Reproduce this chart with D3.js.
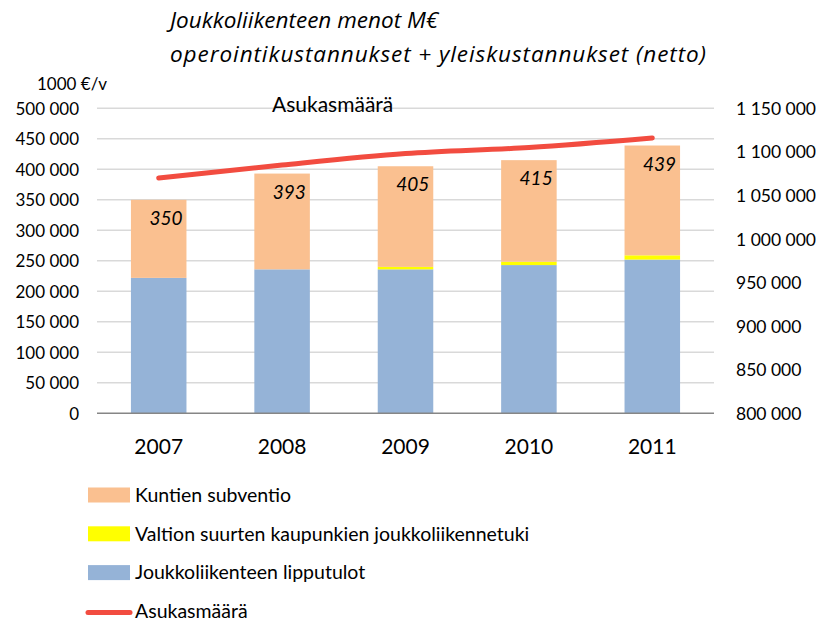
<!DOCTYPE html>
<html>
<head>
<meta charset="utf-8">
<title>Joukkoliikenteen menot</title>
<script src="https://cdn.jsdelivr.net/npm/d3@7"></script>
<style>
  body { margin: 0; background: #fff; }
  text { font-family: Lato, "Open Sans", sans-serif; fill: #000; }
</style>
</head>
<body>
<script>
// vuodet ja sarjat (1000 €/v)
var years = ["2007", "2008", "2009", "2010", "2011"];
var lipputulot = [222000, 236000, 236000, 243000, 252000];
var valtionTuki = [0, 0, 4000, 5500, 7000];
var kuntienSubventio = [128000, 157000, 165000, 166500, 180000];
var totals = [350, 393, 405, 415, 439];
var asukasmaara = [1070000, 1085000, 1098000, 1105000, 1116000];
var leftTicks = [0, 50000, 100000, 150000, 200000, 250000, 300000, 350000, 400000, 450000, 500000];
var rightTicks = [800000, 850000, 900000, 950000, 1000000, 1050000, 1100000, 1150000];

var seriesNames = ["Kuntien subventio", "Valtion suurten kaupunkien joukkoliikennetuki", "Joukkoliikenteen lipputulot", "Asukasmäärä"];
var colors = { lippu: "#95b3d7", valtio: "#ffff00", kunta: "#fac090", line: "#f24c40" };

var width = 819, height = 622;
var plotLeft = 97, plotRight = 714, plotTop = 108.3, plotBottom = 413.3;

var svg = d3.select("body").append("svg")
  .attr("width", width)
  .attr("height", height);

var x = d3.scaleBand().domain(years).range([plotLeft, plotRight]).paddingInner(0.55).paddingOuter(0.275);
var y = d3.scaleLinear().domain([0, 500000]).range([plotBottom, plotTop]);
var y2 = d3.scaleLinear().domain([800000, 1150000]).range([plotBottom, plotTop]);

var fmt = function(v) { return d3.format(",")(v).replace(/,/g, " "); };

// ruudukko
svg.append("g").selectAll("line").data(leftTicks.slice(1)).enter().append("line")
  .attr("x1", plotLeft).attr("x2", plotRight)
  .attr("y1", d => y(d)).attr("y2", d => y(d))
  .style("stroke", "#d9d9d9").style("stroke-width", 1.5);

// akselit
var yAxis = svg.append("g").attr("transform", "translate(" + (plotLeft - 18) + ",0)")
  .call(d3.axisLeft(y).tickValues(leftTicks).tickFormat(fmt).tickSize(0).tickPadding(0));
yAxis.select(".domain").remove();
yAxis.selectAll("text").style("font-size", "17px").style("font-family", "Lato, sans-serif").attr("dy", "0.35em");

var y2Axis = svg.append("g").attr("transform", "translate(" + (plotRight + 22) + ",0)")
  .call(d3.axisRight(y2).tickValues(rightTicks).tickFormat(fmt).tickSize(0).tickPadding(0));
y2Axis.select(".domain").remove();
y2Axis.selectAll("text").style("font-size", "17.5px").style("font-family", "Lato, sans-serif").attr("dy", "0.35em");

// pinotut pylväät
var stackData = years.map(function(yr, i) {
  return { year: yr, lippu: lipputulot[i], valtio: valtionTuki[i], kunta: kuntienSubventio[i] };
});
var stack = d3.stack().keys(["lippu", "valtio", "kunta"]);
var layers = stack(stackData);

svg.append("g").selectAll("g").data(layers).enter().append("g")
  .style("fill", d => colors[d.key])
  .selectAll("rect").data(d => d).enter().append("rect")
  .attr("x", d => x(d.data.year))
  .attr("width", x.bandwidth())
  .attr("y", d => y(d[1]))
  .attr("height", d => y(d[0]) - y(d[1]));

// x-akselin viiva
svg.append("line")
  .attr("x1", plotLeft).attr("x2", plotRight)
  .attr("y1", plotBottom).attr("y2", plotBottom)
  .style("stroke", "#868686").style("stroke-width", 1.5);

var xAxis = svg.append("g").attr("transform", "translate(0," + (plotBottom + 41) + ")")
  .call(d3.axisBottom(x).tickSize(0).tickPadding(0));
xAxis.select(".domain").remove();
xAxis.selectAll("text").style("font-size", "21px").style("font-family", "Lato, sans-serif").attr("dy", "0");

// arvot
svg.append("g").selectAll("text").data(years).enter().append("text")
  .attr("x", d => x(d) + x.bandwidth() - 4)
  .attr("y", (d, i) => y(lipputulot[i] + valtionTuki[i] + kuntienSubventio[i]) + 25)
  .attr("text-anchor", "end")
  .style("font-size", "19px").style("font-style", "italic")
  .text((d, i) => totals[i]);

// asukasmäärä
var line = d3.line()
  .x((d, i) => x(years[i]) + x.bandwidth() / 2)
  .y(d => y2(d))
  .curve(d3.curveMonotoneX);
svg.append("path").datum(asukasmaara)
  .attr("d", line)
  .style("fill", "none").style("stroke", colors.line)
  .style("stroke-width", 5).style("stroke-linecap", "round");

// otsikot
svg.append("text").attr("x", 170).attr("y", 28)
  .style("font-size", "22.5px").style("font-style", "italic")
  .style("font-family", "'Open Sans', sans-serif")
  .text("Joukkoliikenteen menot M€");
svg.append("text").attr("x", 170).attr("y", 62)
  .attr("textLength", 536).attr("lengthAdjust", "spacing")
  .style("font-size", "22.5px").style("font-style", "italic")
  .style("font-family", "'Open Sans', sans-serif")
  .text("operointikustannukset + yleiskustannukset (netto)");
svg.append("text").attr("x", 37).attr("y", 90)
  .style("font-size", "17px").text("1000 €/v");
svg.append("text").attr("x", 272).attr("y", 112)
  .style("font-size", "21px").text("Asukasmäärä");

// selite
var legend = svg.append("g");
var legendColors = [colors.kunta, colors.valtio, colors.lippu];
seriesNames.forEach(function(name, i) {
  var ly = 495 + i * 38.8;
  if (i < 3) {
    legend.append("rect").attr("x", 88).attr("y", ly - 7.5).attr("width", 42).attr("height", 15)
      .style("fill", legendColors[i]);
  } else {
    legend.append("line").attr("x1", 88).attr("x2", 130).attr("y1", ly + 1).attr("y2", ly + 1)
      .style("stroke", colors.line).style("stroke-width", 5).style("stroke-linecap", "round");
  }
  legend.append("text").attr("x", 135).attr("y", ly).attr("dy", "0.35em")
    .style("font-size", "19.5px").text(name);
});
</script>
</body>
</html>
